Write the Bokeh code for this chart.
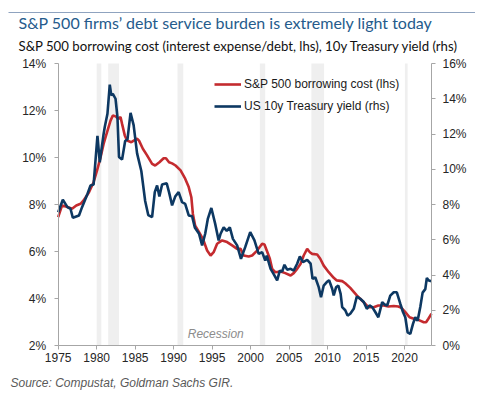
from bokeh.plotting import figure
from bokeh.models import (Range1d, LinearAxis, FixedTicker, PrintfTickFormatter,
                          Label, Legend, LegendItem, BoxAnnotation)
from bokeh.embed import file_html
from bokeh.resources import INLINE

# ---------------- data ----------------
cost_years = [1975.0, 1975.5, 1976.2, 1976.8, 1977.35, 1977.9, 1978.3, 1979.0, 1979.6, 1980.05,
              1980.5, 1980.9, 1981.35, 1981.8, 1982.1, 1982.45, 1982.8, 1983.1, 1983.3, 1983.65,
              1983.95, 1984.5, 1985.25, 1985.5, 1986.0, 1986.55, 1987.2, 1987.6, 1988.15, 1988.7,
              1989.0, 1989.4, 1989.8, 1990.25, 1990.9, 1991.5, 1991.96, 1992.3, 1992.5, 1992.8,
              1993.3, 1993.8, 1994.35, 1994.8, 1995.2, 1995.65, 1996.3, 1996.95, 1997.6, 1998.25,
              1998.7, 1999.1, 1999.75, 2000.2, 2000.85, 2001.5, 2001.8, 2002.1, 2002.5, 2002.8,
              2003.2, 2003.9, 2004.5, 2005.2, 2005.6, 2006.05, 2006.5, 2006.9, 2007.35, 2007.7,
              2008.0, 2008.65, 2009.05, 2009.5, 2010.15, 2010.8, 2011.2, 2011.9, 2012.3, 2012.95,
              2013.8, 2014.7, 2015.3, 2016.0, 2016.6, 2017.3, 2017.9, 2018.6, 2019.2, 2019.6,
              2020.1, 2020.65, 2021.2, 2021.8, 2022.5, 2022.8, 2023.1, 2023.5]
cost_values = [7.46, 7.96, 7.89, 7.82, 7.96, 8.03, 8.17, 8.52, 8.95, 9.45,
               10.0, 10.58, 11.08, 11.57, 11.79, 11.75, 11.65, 11.72, 11.43, 10.94,
               10.72, 10.65, 10.8, 10.72, 10.37, 10.09, 9.73, 9.66, 9.8, 9.97,
               9.97, 9.8, 9.75, 9.66, 9.45, 9.1, 8.74, 8.31, 7.6, 7.1,
               6.82, 6.54, 6.04, 5.83, 5.97, 6.33, 6.47, 6.4, 6.26, 6.11,
               6.11, 5.83, 5.79, 5.83, 6.04, 6.33, 6.3, 6.04, 5.69, 5.26,
               5.12, 5.15, 5.08, 4.98, 5.08, 5.26, 5.48, 5.83, 6.11, 5.97,
               5.9, 5.87, 5.69, 5.4, 5.12, 4.88, 4.77, 4.74, 4.65, 4.45,
               4.13, 3.84, 3.63, 3.63, 3.7, 3.7, 3.66, 3.68, 3.66, 3.6,
               3.42, 3.2, 3.14, 3.09, 2.99, 2.99, 3.14, 3.35]

ust_years = [1975.0, 1975.6, 1976.2, 1976.6, 1976.9, 1977.7, 1978.1, 1978.8, 1979.2, 1979.6,
             1980.1, 1980.4, 1980.9, 1981.05, 1981.4, 1981.7, 1981.9, 1982.1, 1982.45, 1982.7,
             1982.9, 1983.3, 1983.7, 1984.0, 1984.4, 1984.8, 1985.25, 1985.8, 1986.3, 1986.7,
             1987.2, 1987.55, 1987.85, 1988.15, 1988.5, 1989.1, 1989.4, 1989.8, 1990.2, 1990.65,
             1991.1, 1991.5, 1991.96, 1992.4, 1992.75, 1993.3, 1993.7, 1994.1, 1994.45, 1994.9,
             1995.4, 1995.85, 1996.1, 1996.5, 1996.9, 1997.3, 1997.7, 1998.25, 1998.75, 1999.3,
             1999.95, 2000.5, 2001.05, 2001.5, 2001.9, 2002.1, 2002.6, 2003.0, 2003.45, 2003.8,
             2004.1, 2004.4, 2004.75, 2005.2, 2005.6, 2006.05, 2006.4, 2006.8, 2007.35, 2007.8,
             2008.05, 2008.4, 2008.85, 2009.15, 2009.5, 2009.9, 2010.2, 2010.6, 2010.8, 2011.1,
             2011.4, 2011.7, 2011.9, 2012.3, 2012.6, 2012.95, 2013.4, 2013.8, 2014.25, 2014.7,
             2015.1, 2015.45, 2015.8, 2016.2, 2016.6, 2017.1, 2017.4, 2017.75, 2018.15, 2018.6,
             2019.0, 2019.45, 2019.8, 2020.1, 2020.4, 2020.75, 2021.1, 2021.4, 2021.7, 2022.05,
             2022.35, 2022.7, 2022.9, 2023.1, 2023.45]
ust_values = [7.56, 8.27, 7.85, 7.76, 7.25, 7.38, 7.85, 8.6, 9.08, 9.13,
              11.9, 10.4, 12.0, 12.4, 13.15, 14.8, 14.2, 14.28, 14.0, 12.95,
              10.7, 10.55, 11.6, 11.7, 13.2, 12.5, 10.9, 9.9, 8.2, 7.4,
              7.28, 8.7, 9.08, 8.45, 9.13, 9.2, 8.7, 7.95, 8.45, 8.7,
              8.13, 8.04, 7.38, 7.33, 6.7, 6.34, 5.68, 6.34, 7.2, 7.8,
              6.9, 5.96, 6.34, 6.7, 6.5, 6.7, 6.05, 5.68, 4.92, 5.58,
              6.43, 5.96, 5.2, 5.3, 4.82, 5.1, 4.35, 4.05, 3.69, 4.25,
              4.2, 4.58, 4.3, 4.35, 4.25, 4.64, 5.05, 4.73, 4.86, 4.64,
              3.78, 3.87, 3.31, 2.74, 3.4, 3.6, 3.7, 3.22, 2.84, 3.3,
              3.4, 2.93, 2.18, 2.0, 1.7, 1.8, 2.08, 2.78, 2.65, 2.47,
              2.08, 2.27, 2.18, 1.9, 1.6, 2.46, 2.33, 2.27, 2.83, 3.02,
              3.02, 2.37, 1.9, 1.6, 0.75, 0.66, 1.23, 1.6, 1.4, 2.18,
              3.0, 3.2, 3.84, 3.7, 3.65]

rec_start = [1980.0, 1981.5, 1990.5, 2001.2, 2007.9, 2020.05]
rec_end = [1980.6, 1982.9, 1991.25, 2001.9, 2009.55, 2020.4]

x_ticks = [1975, 1980, 1985, 1990, 1995, 2000, 2005, 2010, 2015, 2020]
lhs_ticks = [2, 4, 6, 8, 10, 12, 14]
rhs_ticks = [0, 2, 4, 6, 8, 10, 12, 14, 16]

title_text = "S&P 500 firms\u2019 debt service burden is extremely light today"
subtitle_text = "S&P 500 borrowing cost (interest expense/debt, lhs), 10y Treasury yield (rhs)"
source_text = "Source: Compustat, Goldman Sachs GIR."
cost_label = "S&P 500 borrowing cost (lhs)"
ust_label = "US 10y Treasury yield (rhs)"

RED = "#C42B2F"
BLUE = "#0D3862"
AXIS = "#A6A6A6"
FONT = "Liberation Sans"

W, H = 475, 390
# frame covers whole canvas; data ranges chosen so that the plotted area sits
# where the reference puts it (x: 1975 at 57.7px, 7.696px/yr; lhs 23.5px per 1%)
X0 = 1975 - 57.7 / 7.696
X1 = 1975 + (W - 57.7) / 7.696
L0 = 14 - (H - 63) / 23.5
L1 = 14 + 63 / 23.5
R0 = 16 - (H - 63) / 17.625
R1 = 16 + 63 / 17.625

p = figure(width=W, height=H, output_backend="svg", toolbar_location=None,
           x_range=Range1d(X0, X1), y_range=Range1d(L0, L1),
           min_border=0, min_border_left=0, min_border_right=0,
           min_border_top=0, min_border_bottom=0)
p.extra_y_ranges = {"rhs": Range1d(R0, R1)}
p.outline_line_color = None
p.xgrid.visible = False
p.ygrid.visible = False
p.background_fill_color = "white"
p.border_fill_color = "white"

# recessions
p.quad(left=rec_start, right=rec_end, bottom=lhs_ticks[0], top=lhs_ticks[-1],
       fill_color="#EFEFEF", line_color=None)

r_cost = p.line(cost_years, cost_values, line_color=RED, line_width=2.6)
r_ust = p.line(ust_years, ust_values, line_color=BLUE, line_width=2.6, y_range_name="rhs")

def style_axis(ax):
    ax.axis_line_color = AXIS
    ax.major_tick_line_color = AXIS
    ax.major_tick_out = 4
    ax.major_tick_in = 0
    ax.minor_tick_line_color = None
    ax.major_label_text_font = FONT
    ax.major_label_text_font_size = "12px"
    ax.major_label_text_color = "#262626"

xa = p.xaxis[0]
xa.ticker = FixedTicker(ticks=x_ticks)
xa.formatter = PrintfTickFormatter(format="%d")
style_axis(xa)
xa.major_label_standoff = 3
xa.bounds = (1975, 2023.5)
xa.fixed_location = lhs_ticks[0]

ya = p.yaxis[0]
ya.ticker = FixedTicker(ticks=lhs_ticks)
ya.formatter = PrintfTickFormatter(format="%d%%")
style_axis(ya)
ya.major_label_standoff = 8
ya.bounds = (lhs_ticks[0], lhs_ticks[-1])
ya.fixed_location = 1975

ra = LinearAxis(y_range_name="rhs", ticker=FixedTicker(ticks=rhs_ticks),
                formatter=PrintfTickFormatter(format="%d%%"))
style_axis(ra)
ra.major_label_standoff = 7
ra.bounds = (rhs_ticks[0], rhs_ticks[-1])
ra.fixed_location = 2023.5
p.add_layout(ra, "right")

legend = Legend(items=[LegendItem(label=cost_label, renderers=[r_cost]),
                       LegendItem(label=ust_label, renderers=[r_ust])],
                location=(214, H - 116), orientation="vertical")
legend.label_text_font = FONT
legend.label_text_font_size = "12px"
legend.label_text_color = "#1a1a1a"
legend.glyph_width = 27
legend.glyph_height = 20
legend.label_height = 20
legend.label_standoff = 3
legend.spacing = 2
legend.padding = 0
legend.margin = 0
legend.border_line_color = None
legend.background_fill_alpha = 0
p.add_layout(legend)

p.add_layout(Label(x=1991.83, y=2.51, text="Recession", text_font=FONT,
                   text_font_size="12px", text_font_style="italic",
                   text_color="#8C8C8C", text_baseline="middle"))

# header / footer texts (screen units, from bottom-left of canvas)
p.add_layout(Label(x=18, y=H - 22, x_units="screen", y_units="screen", text=title_text,
                   text_font="Lato", text_font_size="16px", text_color="#255B8C",
                   text_baseline="middle"))
p.add_layout(Label(x=18, y=H - 45, x_units="screen", y_units="screen", text=subtitle_text,
                   text_font="Lato", text_font_size="13.2px", text_color="#111111",
                   text_baseline="middle"))
p.add_layout(Label(x=10, y=H - 382, x_units="screen", y_units="screen", text=source_text,
                   text_font=FONT, text_font_size="12px", text_font_style="italic",
                   text_color="#595959", text_baseline="middle"))

p.add_layout(BoxAnnotation(left=8, right=475, top=H - 11.5, bottom=H - 12.5,
                           left_units="screen", right_units="screen",
                           top_units="screen", bottom_units="screen",
                           fill_color="#8FA3BF", fill_alpha=1.0, line_color=None))

open("out.html", "w").write(file_html(p, INLINE))
